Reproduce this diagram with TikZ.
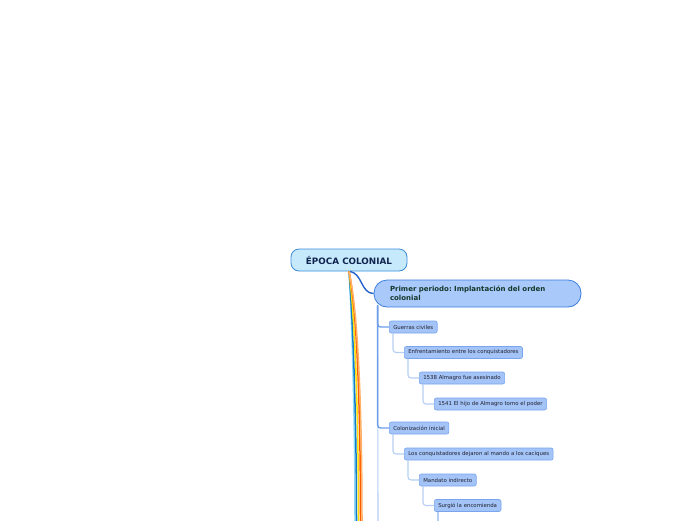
\documentclass[tikz,border=0pt]{standalone}
\usepackage{fontspec}
\setmainfont{DejaVu Sans}
\usetikzlibrary{positioning}
\frenchspacing
\definecolor{rootfill}{HTML}{C6EAFC}
\definecolor{rootline}{HTML}{3B8AD9}
\definecolor{rootink}{HTML}{10244F}
\definecolor{mainfill}{HTML}{A8C9FA}
\definecolor{mainline}{HTML}{3E7EDF}
\definecolor{mainink}{HTML}{16372B}
\definecolor{subfill}{HTML}{A4C3F7}
\definecolor{subline}{HTML}{78A5EE}
\definecolor{subink}{HTML}{20232E}
\definecolor{linkcol}{HTML}{B6CEF4}
\definecolor{trunkcol}{HTML}{6D9EEA}
\definecolor{curveblue}{HTML}{2563CC}
\begin{document}
\begin{tikzpicture}[x=1pt, y=-1pt,
    root/.style={draw=rootline, fill=rootfill, line width=0.8pt, rounded corners=8pt,
      minimum width=116pt, minimum height=22pt, inner sep=0pt,
      text=rootink, font=\fontsize{8.8}{10}\selectfont\bfseries},
    period/.style={draw=mainline, fill=mainfill, line width=0.8pt, rounded corners=13pt,
      text width=175pt, inner xsep=16pt, inner ysep=0pt, minimum height=27pt, align=left,
      text=mainink, font=\fontsize{7}{9}\selectfont\bfseries},
    topic/.style={draw=subline, fill=subfill, line width=0.6pt, rounded corners=2pt,
      minimum height=12pt, inner xsep=4pt, inner ysep=0pt, anchor=west,
      text=subink, font=\fontsize{5.4}{6}\selectfont},
    link/.style={draw=linkcol, line width=1.1pt, rounded corners=3pt},
    trunk/.style={draw=trunkcol, line width=1.4pt, rounded corners=3pt},
    strand/.style={line width=1.5pt}]

  \useasboundingbox (0,0) rectangle (696,520);

  % main nodes
  \node[root] (epoca) at (349,260) {ÉPOCA COLONIAL};
  \node[period] (primer) at (477.5,293.5) {Primer periodo: Implantación del orden\\colonial};

  % first branch
  \node[topic] (guerras) at (389,327)   {Guerras civiles};
  \node[topic] (enfrenta) at (404,352.5) {Enfrentamiento entre los conquistadores};
  \node[topic] (almagro) at (419,378)   {1538 Almagro fue asesinado};
  \node[topic] (hijo) at (434,404)      {1541 El hijo de Almagro tomo el poder};

  % second branch
  \node[topic] (coloniza) at (389,428)  {Colonización inicial};
  \node[topic] (caciques) at (404,454)  {Los conquistadores dejaron al mando a los caciques};
  \node[topic] (mandato) at (419,480)   {Mandato indirecto};
  \node[topic] (encomienda) at (434,505.5) {Surgió la encomienda};

  % loose ends at the bottom edge
  \coordinate (trunkend) at (378,521);
  \coordinate (encend) at (438,521);
  \coordinate (s1) at (355,521);
  \coordinate (s2) at (356.5,521);
  \coordinate (s3) at (358.5,521);
  \coordinate (s4) at (360.5,521);
  \coordinate (s5) at (362,521);

  % coloured strands
  \draw[strand, draw=cyan!45!white] (epoca.south) .. controls (352,320) and (355,420) .. (s1);
  \draw[strand, draw=cyan!60!blue] (epoca.south) .. controls (353,320) and (356.5,420) .. (s2);
  \draw[strand, draw=yellow!80!orange] (epoca.south) .. controls (355,315) and (358.5,420) .. (s3);
  \draw[strand, draw=orange!70!red] (epoca.south) .. controls (357,310) and (360.5,410) .. (s4);
  \draw[strand, draw=orange!60!white] (epoca.south) .. controls (358,310) and (362,410) .. (s5);

  \draw[curveblue, line width=1.4pt] ([xshift=1pt]epoca.south) to[out=-10, in=180] (primer.west);

  % trunk
  \draw[link] ([xshift=4pt, yshift=2pt]primer.south west) -- (trunkend);
  \draw[trunk] ([xshift=4pt, yshift=2pt]primer.south west) |- (coloniza.west);
  \draw[trunk] ([xshift=4pt, yshift=2pt]primer.south west) |- (guerras.west);

  % branch links
  \draw[link] ([xshift=4pt]guerras.south west) |- (enfrenta.west);
  \draw[link] ([xshift=4pt]enfrenta.south west) |- (almagro.west);
  \draw[link] ([xshift=4pt]almagro.south west) |- (hijo.west);
  \draw[link] ([xshift=4pt]coloniza.south west) |- (caciques.west);
  \draw[link] ([xshift=4pt]caciques.south west) |- (mandato.west);
  \draw[link] ([xshift=4pt]mandato.south west) |- (encomienda.west);
  \draw[link] ([xshift=4pt]encomienda.south west) -- (encend);
\end{tikzpicture}
\end{document}
